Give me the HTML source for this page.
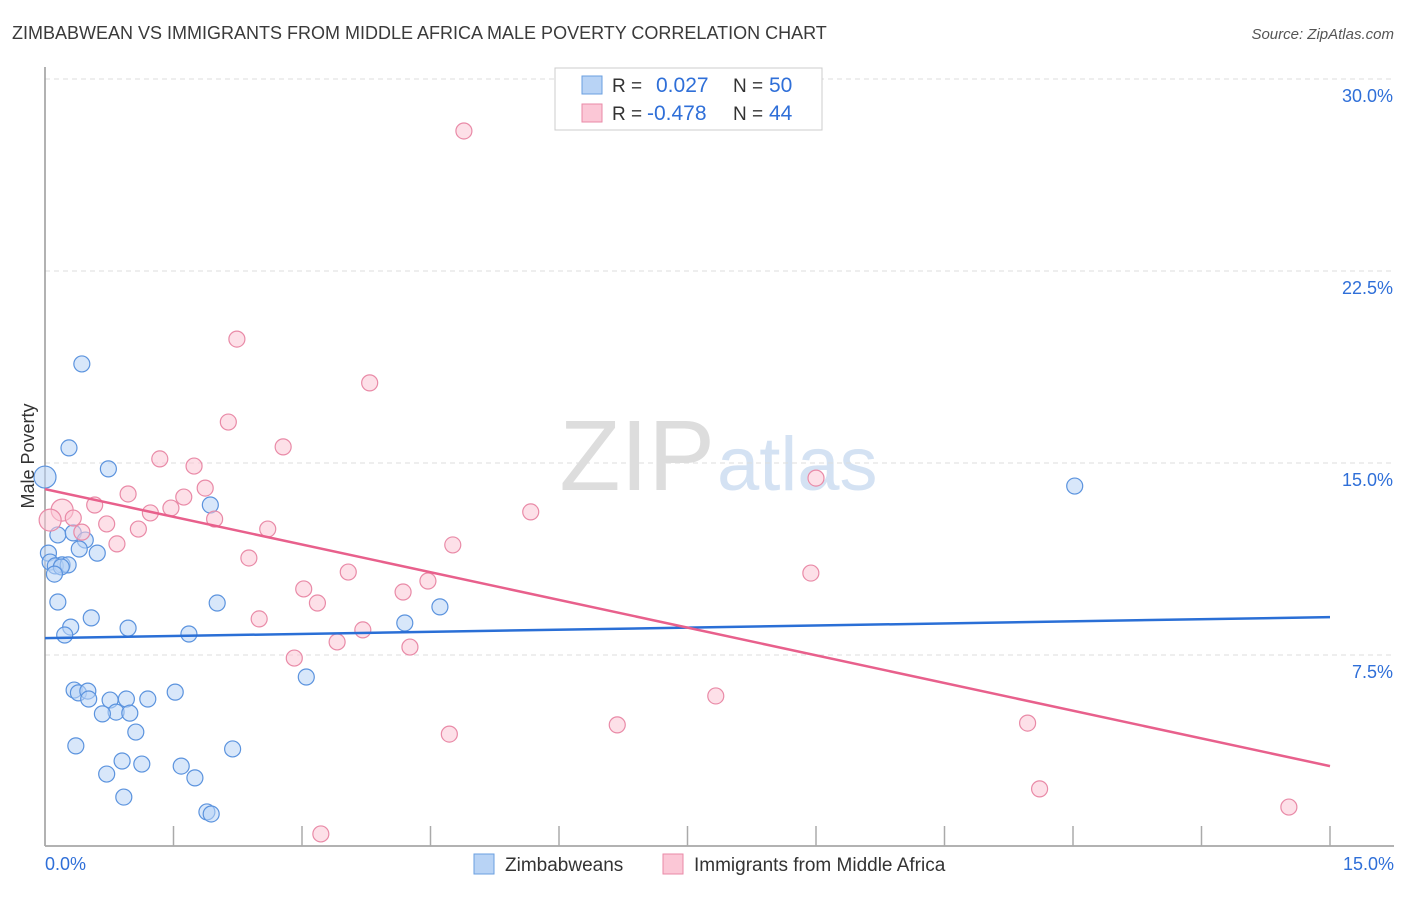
<!DOCTYPE html>
<html><head><meta charset="utf-8"><style>
body{margin:0;background:#fff;font-family:"Liberation Sans",sans-serif;}
svg text{font-family:"Liberation Sans",sans-serif;}
</style></head><body>
<svg id="chart" width="1406" height="892" viewBox="0 0 1406 892" xmlns="http://www.w3.org/2000/svg">
<text x="12" y="39" font-size="18" fill="#3a3a3a">ZIMBABWEAN VS IMMIGRANTS FROM MIDDLE AFRICA MALE POVERTY CORRELATION CHART</text>
<text x="1394" y="39" font-size="15" fill="#555" font-style="italic" text-anchor="end">Source: ZipAtlas.com</text>
<text x="715" y="490" font-size="100" text-anchor="end" fill="#ddd" font-family="Liberation Serif">ZIP</text>
<text x="717" y="490" font-size="76" fill="#d4e2f3">atlas</text>
<g id="grid"></g>
<g id="axes"></g>
<g id="marks"></g>
<text transform="translate(34,456) rotate(-90)" font-size="18" fill="#333" text-anchor="middle">Male Poverty</text>
<g>
<rect x="555" y="68" width="267" height="62" fill="#fff" stroke="#ccc"/>
<rect x="582" y="76" width="20" height="18" fill="#b8d3f5" stroke="#6a9fe0"/>
<text x="612" y="92" font-size="19" fill="#333">R = </text><text x="656" y="92" font-size="21" fill="#2f6fd8">0.027</text>
<text x="733" y="92" font-size="19" fill="#333">N = </text><text x="769" y="92" font-size="21" fill="#2f6fd8">50</text>
<rect x="582" y="104" width="20" height="18" fill="#fbc7d6" stroke="#e98aa7"/>
<text x="612" y="120" font-size="19" fill="#333">R = </text><text x="647" y="120" font-size="21" fill="#2f6fd8">-0.478</text>
<text x="733" y="120" font-size="19" fill="#333">N = </text><text x="769" y="120" font-size="21" fill="#2f6fd8">44</text>
</g>
<g>
<rect x="474" y="854" width="20" height="20" fill="#b8d3f5" stroke="#6a9fe0"/>
<text x="505" y="871" font-size="19" fill="#333">Zimbabweans</text>
<rect x="663" y="854" width="20" height="20" fill="#fbc7d6" stroke="#e98aa7"/>
<text x="694" y="871" font-size="19" fill="#333">Immigrants from Middle Africa</text>
</g>
</svg>
<script>
const blueX=[0.43,0.28,0.74,0.0,1.93,0.15,0.33,0.47,0.04,0.40,0.61,0.06,0.20,0.12,0.27,0.19,0.11,0.15,0.54,0.30,0.97,0.23,1.68,2.01,4.61,4.20,3.05,12.02,0.34,0.39,0.50,0.51,0.76,0.95,0.83,0.67,0.99,1.20,1.52,1.06,0.36,2.19,0.90,0.72,1.13,1.59,1.75,0.92,1.89,1.94];
const blueY=[18.87,15.59,14.77,14.45,13.36,12.19,12.27,11.99,11.48,11.64,11.48,11.13,11.02,10.98,11.02,10.94,10.66,9.57,8.95,8.59,8.55,8.28,8.32,9.53,9.38,8.75,6.64,14.10,6.13,6.02,6.09,5.78,5.74,5.78,5.27,5.20,5.23,5.78,6.05,4.49,3.95,3.83,3.36,2.85,3.24,3.16,2.70,1.95,1.37,1.29];
const pinkX=[4.89,2.24,3.79,2.14,2.78,1.34,1.74,9.00,1.87,0.97,1.62,0.58,0.20,0.33,1.23,1.47,5.67,1.98,0.72,0.43,2.60,1.09,0.84,4.76,2.38,3.54,8.94,4.47,3.02,4.18,3.18,2.50,3.71,3.41,4.26,2.91,7.83,6.68,4.72,11.47,11.61,14.52,3.22,0.06];
const pinkY=[27.97,19.84,18.13,16.60,15.63,15.16,14.88,14.41,14.02,13.79,13.67,13.36,13.16,12.85,13.05,13.24,13.09,12.81,12.62,12.30,12.42,12.42,11.84,11.80,11.29,10.74,10.70,10.39,10.08,9.96,9.53,8.91,8.48,8.01,7.81,7.38,5.90,4.77,4.41,4.84,2.27,1.56,0.51,12.77];
const blueTrend=[8.16,8.98];
const pinkTrend=[13.98,3.16];
const trendX=[0,15];
const yTicks=[7.5,15,22.5,30];
const yTickLabels=["7.5%","15.0%","22.5%","30.0%"];
const xTicks=[0,1.5,3,4.5,6,7.5,9,10.5,12,13.5,15];
const NS="http://www.w3.org/2000/svg";
const X0=45,X1=1330,Y0=847;
function sx(v){return X0+(X1-X0)*v/15;}
function sy(v){return Y0-v*25.6;}
function mk(tag,attrs,parent){const e=document.createElementNS(NS,tag);for(const k in attrs)e.setAttribute(k,attrs[k]);parent.appendChild(e);return e;}
const grid=document.getElementById('grid'),axes=document.getElementById('axes'),marks=document.getElementById('marks');
yTicks.forEach((t,i)=>{
 const l=mk('line',{x1:X0,x2:1394,y1:sy(t),y2:sy(t),stroke:'#ddd','stroke-dasharray':'5,4'},grid);
 
 
 const tx=mk('text',{x:1393,y:sy(t)+23,'font-size':18,fill:'#2f6fd8','text-anchor':'end'},axes);
 tx.textContent=yTickLabels[i];
 
 
});
const ya=mk('line',{x1:X0,x2:X0,y1:67,y2:846,stroke:'#999','stroke-width':1.5},axes);


const xa=mk('line',{x1:X0,x2:1394,y1:846,y2:846,stroke:'#999','stroke-width':1.5},axes);


xTicks.forEach(t=>{
 const l=mk('line',{x1:sx(t),x2:sx(t),y1:826,y2:846,stroke:'#aaa','stroke-width':1.5},axes);
 
 
});
const xl0=mk('text',{x:45,y:870,'font-size':18,fill:'#2f6fd8'},axes);xl0.textContent='0.0%';


const xl1=mk('text',{x:1394,y:870,'font-size':18,fill:'#2f6fd8','text-anchor':'end'},axes);xl1.textContent='15.0%';


function pts(xs,ys,fill,stroke,name){
 xs.forEach((x,i)=>{
  const big=(x<0.25&&ys[i]>12.5&&ys[i]<14.6);
  const c=mk('circle',{cx:sx(x),cy:sy(ys[i]),r:big?11:8,fill:fill,'fill-opacity':0.55,stroke:stroke,'stroke-width':1.2},marks);
  
  
 });
}
pts(blueX,blueY,'#b8d3f5','#5b93de','zimbabwean-point');
pts(pinkX,pinkY,'#fbc7d6','#e98aa7','middle-africa-point');
const bt=mk('line',{x1:sx(trendX[0]),x2:sx(trendX[1]),y1:sy(blueTrend[0]),y2:sy(blueTrend[1]),stroke:'#2a6fd6','stroke-width':2.5},marks);


const pt=mk('line',{x1:sx(trendX[0]),x2:sx(trendX[1]),y1:sy(pinkTrend[0]),y2:sy(pinkTrend[1]),stroke:'#e8608c','stroke-width':2.5},marks);


</script>
</body></html>
